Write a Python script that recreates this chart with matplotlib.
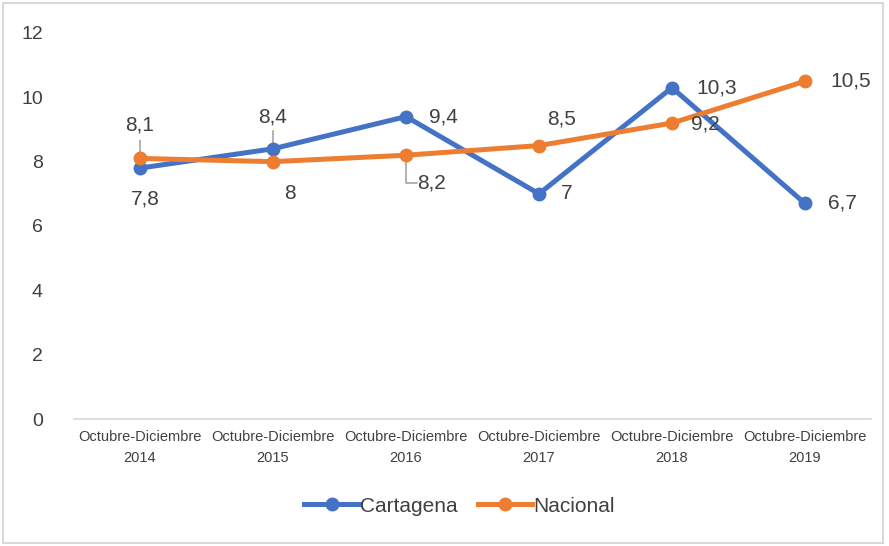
import matplotlib
matplotlib.use('Agg')
import matplotlib.pyplot as plt
from matplotlib.patches import Rectangle

# data
periods = ['Octubre-Diciembre\n2014', 'Octubre-Diciembre\n2015', 'Octubre-Diciembre\n2016',
           'Octubre-Diciembre\n2017', 'Octubre-Diciembre\n2018', 'Octubre-Diciembre\n2019']
cartagena = [7.8, 8.4, 9.4, 7.0, 10.3, 6.7]
nacional = [8.1, 8.0, 8.2, 8.5, 9.2, 10.5]

BLUE = '#4472C4'
ORANGE = '#ED7D31'
TXT = '#404040'
FONT = ['Liberation Sans', 'DejaVu Sans']

plt.rcParams['font.family'] = FONT

def fmt(v):
    s = ('%.1f' % v).rstrip('0').rstrip('.')
    return s.replace('.', ',')

fig = plt.figure(figsize=(8.89, 5.46), dpi=100)
ax = fig.add_axes([0.0827, 0.2326, 0.8976, 0.707])

x = list(range(len(periods)))
ax.plot(x, cartagena, color=BLUE, lw=3.6, marker='o', ms=9, label='Cartagena', zorder=3)
ax.plot(x, nacional, color=ORANGE, lw=3.6, marker='o', ms=9, label='Nacional', zorder=4)

ax.set_xlim(-0.5, len(periods) - 0.5)
ax.set_ylim(0, 12)
ax.set_yticks(range(0, 13, 2))
ax.set_xticks(x)
ax.set_xticklabels(periods, fontsize=10.5, color=TXT, linespacing=1.6)
ax.tick_params(axis='x', length=0, pad=8)
ax.tick_params(axis='y', length=0, pad=22, labelsize=14, labelcolor=TXT)
for s in ['top', 'right', 'left']:
    ax.spines[s].set_visible(False)
ax.spines['bottom'].set_color('#D9D9D9')
ax.spines['bottom'].set_linewidth(1.2)

# data labels: offsets in points (dx, dy), optional leader line
c_off = [(4, -22, None), (0, 23, 'v'), (27, 0, None), (20, 0, None), (32, 0, None), (27, 0, None)]
n_off = [(0, 24, 'v'), (12, -23, None), (18, -20, 'elbow'), (16, 19, None), (24, -1, None), (33, 0, None)]

def put_labels(vals, offs):
    for i, (v, (dx, dy, lead)) in enumerate(zip(vals, offs)):
        ax.annotate(fmt(v), (i, v), xytext=(dx, dy), textcoords='offset points',
                    ha='center', va='center', fontsize=15, color=TXT, zorder=6)
        if lead == 'v':
            sign = 1 if dy > 0 else -1
            ax.annotate('', (i, v), xytext=(0, sign * 13), textcoords='offset points',
                        arrowprops=dict(arrowstyle='-', color='#A6A6A6', lw=1.2,
                                        shrinkA=0, shrinkB=4), zorder=2)
        elif lead == 'elbow':
            ax.annotate('', (i, v), xytext=(8, dy), textcoords='offset points',
                        arrowprops=dict(arrowstyle='-', color='#A6A6A6', lw=1.2,
                                        shrinkA=0, shrinkB=4,
                                        connectionstyle='angle,angleA=180,angleB=90,rad=0'),
                        zorder=2)

put_labels(cartagena, c_off)
put_labels(nacional, n_off)

leg = fig.legend(loc='center', bbox_to_anchor=(0.517, 0.073), ncol=2, frameon=False,
                 fontsize=15, handlelength=2.6, columnspacing=1.0, handletextpad=0.05)
for t in leg.get_texts():
    t.set_color(TXT)

fig.patches.append(Rectangle((0.003, 0.006), 0.99, 0.988, transform=fig.transFigure,
                             fill=False, edgecolor='#D9D9D9', lw=1.5))

fig.savefig('out.png', dpi=100, facecolor='white')
